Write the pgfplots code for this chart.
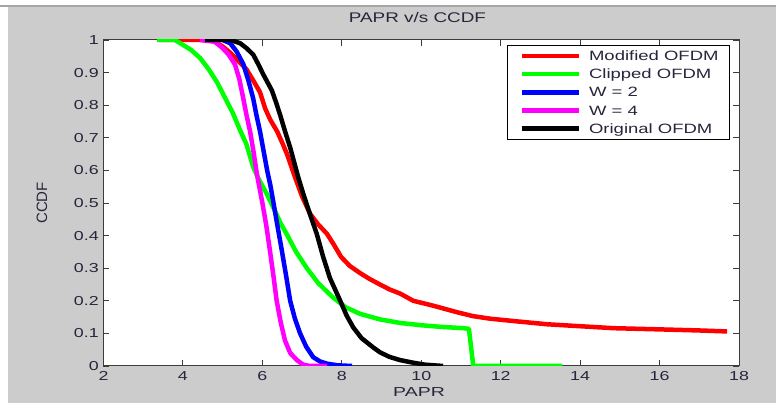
\documentclass[border=0pt]{standalone}
\usepackage{fontspec}
\setmainfont{Liberation Sans}
\usepackage{graphicx}
\usepackage{pgfplots}
\pgfplotsset{compat=1.18}
\definecolor{figgray}{RGB}{204,204,204}
\definecolor{topline}{RGB}{165,165,165}
\definecolor{axgray}{RGB}{60,60,60}
\definecolor{txt}{RGB}{38,38,60}
\definecolor{mgreen}{RGB}{0,255,0}
\definecolor{mmag}{RGB}{255,0,255}
\definecolor{mred}{RGB}{255,0,0}
\definecolor{mblue}{RGB}{0,0,255}

\begin{document}
\begin{tikzpicture}
\useasboundingbox (0,0) rectangle (776pt,403pt);
\fill[white] (0,0) rectangle (776pt,403pt);
\fill[figgray] (8pt,0) rectangle (776pt,396pt);
\draw[topline,line width=1.5pt] (0,396.8pt) -- (776pt,396.8pt);
\begin{axis}[
  at={(103.5pt,37pt)}, anchor=south west,
  scale only axis, width=635.5pt, height=326pt,
  xmin=2, xmax=18, ymin=0, ymax=1,
  axis background/.style={fill=white},
  xtick={2,4,6,8,10,12,14,16,18},
  ytick={0,0.1,0.2,0.3,0.4,0.5,0.6,0.7,0.8,0.9,1},
  /pgf/number format/assume math mode=true,
  tick align=inside, xtick pos=both, ytick pos=both,
  major tick length=6pt,
  every tick/.style={axgray, line width=0.9pt},
  axis line style={axgray, line width=1pt},
  tick label style={text=txt, font=\fontsize{13}{15}\selectfont},
  yticklabel style={xscale=1.37},
  xticklabel style={xscale=1.37, yshift=-2pt},
  title={PAPR v/s CCDF},
  title style={at={(axis description cs:0.494,1.0359)}, anchor=base,
    text=txt, font=\fontsize{14}{16}\selectfont, xscale=1.35},
  xlabel={PAPR},
  every axis x label/.style={at={(axis description cs:0.4965,-0.0951)}, anchor=base,
    text=txt, font=\fontsize{13}{15}\selectfont, xscale=1.5},
  ylabel={CCDF},
  every axis y label/.style={at={(axis description cs:-0.0889,0.5)}, rotate=90, anchor=base,
    text=txt, font=\fontsize{15}{17}\selectfont},
  every axis plot/.append style={line width=4.5pt, line join=round},
  legend image code/.code={\path (0pt,0pt); \draw[#1] (5pt,0pt) -- (62pt,0pt);},
  legend style={at={(rel axis cs:0.9858,0.9847)}, anchor=north east,
    draw=black, line width=0.8pt, fill=white, text=txt,
    font=\fontsize{13.5}{15}\selectfont,
    inner xsep=7pt, inner ysep=4.2pt, row sep=5.15pt, column sep=4pt,
    nodes={inner xsep=4pt, inner ysep=0pt, text height=11pt, text depth=2pt},
    cells={anchor=west}},
]
\addplot[mred] coordinates {
(3.4,1) (4.6,1) (4.8,0.995) (5.0,0.98) (5.2,0.96) (5.4,0.935) (5.6,0.91)
(5.75,0.88) (5.94,0.84) (6.07,0.79) (6.2,0.755) (6.37,0.72) (6.5,0.685)
(6.62,0.65) (6.82,0.58) (7.0,0.52) (7.2,0.467) (7.4,0.435) (7.63,0.405)
(7.8,0.372) (7.98,0.335) (8.2,0.307) (8.46,0.285) (8.7,0.267) (8.96,0.25)
(9.2,0.235) (9.47,0.222) (9.8,0.20) (10.3,0.185) (10.9,0.165) (11.3,0.153)
(11.74,0.145) (12.4,0.137) (13.17,0.128) (14.0,0.122) (14.84,0.116)
(16.1,0.112) (17.0,0.109) (17.7,0.106)};
\addlegendentry{\scalebox{1.37}[1]{Modified OFDM}}
\addplot[mgreen] coordinates {
(3.35,1) (3.8,1) (4.0,0.985) (4.2,0.97) (4.43,0.945) (4.65,0.91) (4.86,0.87)
(5.05,0.825) (5.26,0.775) (5.45,0.72) (5.6,0.68) (5.77,0.61) (5.9,0.575)
(6.11,0.528) (6.3,0.48) (6.45,0.44) (6.61,0.405) (6.85,0.35) (7.12,0.30)
(7.4,0.255) (7.78,0.21) (8.1,0.18) (8.46,0.16) (8.96,0.143) (9.47,0.132)
(10.0,0.125) (10.5,0.12) (11.06,0.116) (11.2,0.114) (11.31,0) (13.55,0)};
\addlegendentry{\scalebox{1.37}[1]{Clipped OFDM}}
\addplot[mblue] coordinates {
(4.5,1) (5.0,1) (5.19,0.99) (5.35,0.965) (5.52,0.926) (5.65,0.875) (5.77,0.82)
(5.85,0.77) (5.94,0.72) (6.03,0.66) (6.12,0.60) (6.2,0.555) (6.27,0.507)
(6.38,0.43) (6.49,0.354) (6.6,0.275) (6.7,0.20) (6.82,0.145) (6.95,0.10)
(7.1,0.06) (7.28,0.027) (7.45,0.014) (7.63,0.007) (7.9,0.002) (8.26,0)};
\addlegendentry{\scalebox{1.37}[1]{W = 2}}
\addplot[mmag] coordinates {
(4.43,1) (4.8,0.995) (5.0,0.975) (5.15,0.955) (5.31,0.925) (5.42,0.88)
(5.52,0.82) (5.6,0.77) (5.69,0.72) (5.78,0.655) (5.86,0.59) (5.93,0.545)
(5.99,0.507) (6.1,0.43) (6.19,0.354) (6.28,0.275) (6.36,0.20) (6.46,0.135)
(6.57,0.078) (6.7,0.04) (6.87,0.018) (7.03,0.004) (7.2,0) (7.63,0)};
\addlegendentry{\scalebox{1.37}[1]{W = 4}}
\addplot[black] coordinates {
(4.56,1) (5.2,1) (5.44,0.99) (5.6,0.975) (5.77,0.955) (5.9,0.925) (6.02,0.895)
(6.13,0.87) (6.24,0.845) (6.34,0.81) (6.44,0.773) (6.57,0.72) (6.7,0.67)
(6.8,0.625) (6.9,0.58) (7.03,0.528) (7.2,0.465) (7.37,0.405) (7.53,0.335)
(7.7,0.27) (7.83,0.235) (7.96,0.20) (8.12,0.155) (8.29,0.118) (8.5,0.085)
(8.79,0.057) (8.96,0.042) (9.2,0.028) (9.47,0.018) (9.8,0.01) (10.1,0.004)
(10.55,0)};
\addlegendentry{\scalebox{1.37}[1]{Original OFDM}}
\end{axis}
\end{tikzpicture}
\end{document}
